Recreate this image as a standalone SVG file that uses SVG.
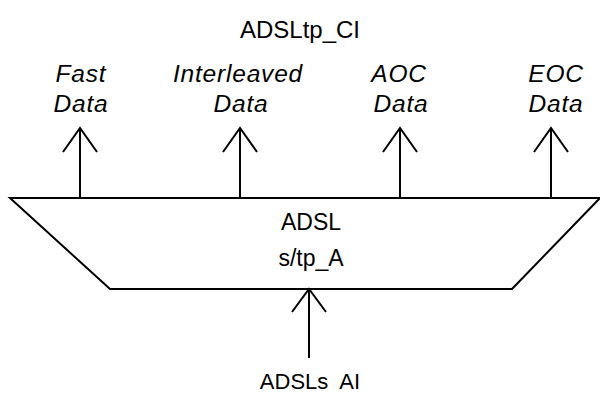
<svg xmlns="http://www.w3.org/2000/svg" width="600" height="394" viewBox="0 0 600 394">
<style>
.t{font-family:"Liberation Sans",Arial,sans-serif;font-size:22px;fill:#000;text-anchor:middle}
.b{font-size:23px}
.i{font-style:italic;font-size:24.5px;letter-spacing:0.8px}
.ln{stroke:#000;stroke-width:2;fill:none}
</style>
<rect width="600" height="394" fill="#fff"/>
<g id="block">
<polygon class="ln" points="10,198 600,198 512,289 110,289"/>
<text class="t b" x="311" y="230">ADSL</text>
<text class="t b" x="311" y="266">s/tp_A</text>
</g>
<g id="top-label"><text class="t" x="300" y="38" style="font-size:24px">ADSLtp_CI</text></g>
<g id="fast"><text class="t i" x="81" y="82">Fast</text><text class="t i" x="81" y="112">Data</text></g>
<g id="interleaved"><text class="t i" x="238" y="82">Interleaved</text><text class="t i" x="241" y="112">Data</text></g>
<g id="aoc"><text class="t i" x="399" y="82">AOC</text><text class="t i" x="401" y="112">Data</text></g>
<g id="eoc"><text class="t i" x="556" y="82">EOC</text><text class="t i" x="556" y="112">Data</text></g>
<g id="bottom-label"><text class="t" x="310" y="389" xml:space="preserve">ADSLs  AI</text></g>
<g id="connectors" class="ln">
<path d="M80,198V128M63,152L80,128L97,152"/>
<path d="M240,198V128M223,152L240,128L257,152"/>
<path d="M400,198V128M383,152L400,128L417,152"/>
<path d="M551,198V128M534,152L551,128L568,152"/>
<path d="M309,358V289M292,312L309,289L326,312"/>
</g>
</svg>
